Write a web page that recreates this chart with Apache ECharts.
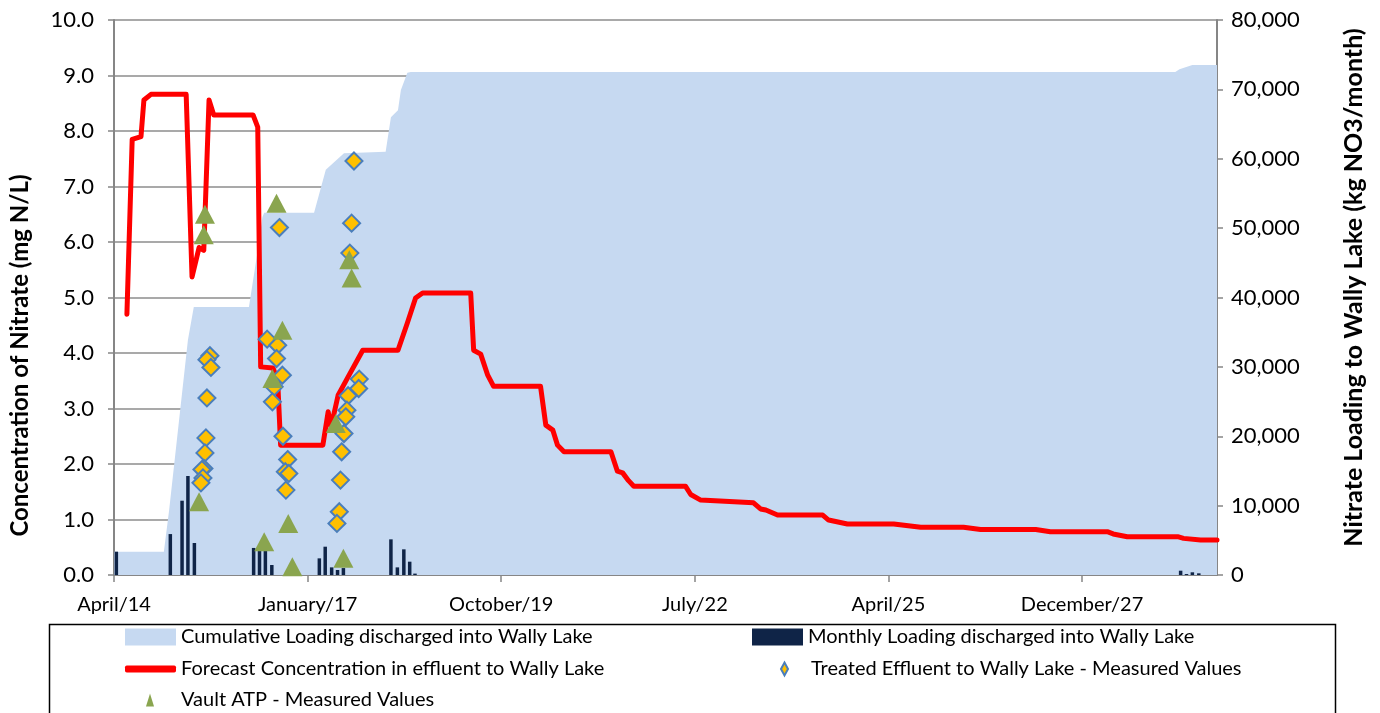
<!DOCTYPE html>
<html>
<head>
<meta charset="utf-8">
<script src="https://cdn.jsdelivr.net/npm/echarts@6/dist/echarts.min.js"></script>
<style>
html,body{margin:0;padding:0;background:#fff;}
#chart{width:1380px;height:713px;}
</style>
</head>
<body>
<div id="chart"></div>
<script>
// x values are months elapsed since April 2014
const tickLabels = ['April/14','January/17','October/19','July/22','April/25','December/27'];

const cumMonths  = [0, 8.5, 9.4, 9.7, 12.6, 13.6, 23.0, 24.5, 25.3, 25.6, 34.1, 36.1, 39.2, 46.3, 47.2, 48.4, 48.9, 50.0, 50.6, 180.9, 181.6, 183.8, 188];
const cumLoading = [3360, 3360, 9370, 9370, 33870, 38630, 38630, 46800, 51600, 52200, 52200, 58400, 60800, 61000, 66000, 67000, 69900, 72400, 72500, 72500, 72900, 73500, 73500];

const monthlyMonths  = [0.4, 9.6, 11.6, 12.6, 13.7, 23.8, 24.8, 25.8, 26.9, 35.0, 36.0, 37.1, 38.1, 39.1, 47.2, 48.3, 49.4, 50.4, 51.3, 181.8, 182.8, 183.8, 184.9];
const monthlyLoading = [3360, 5900, 10710, 14270, 4610, 3900, 3700, 3700, 1440, 2400, 4080, 1100, 720, 1000, 5140, 1100, 3700, 1920, 200, 620, 140, 390, 240];

const forecastMonths = [2.2, 3.1, 4.6, 5.1, 6.3, 12.3, 13.3, 14.5, 15.3, 16.2, 17.0, 23.7, 24.5, 25.0, 27.1, 27.9, 28.4, 35.6, 36.5, 37.0, 38.2, 39.9, 42.4, 48.4, 50.0, 51.4, 52.6, 60.8, 61.3, 62.5, 63.7, 64.7, 72.7, 73.6, 74.8, 75.6, 76.7, 84.7, 85.8, 86.7, 87.7, 88.6, 97.4, 98.3, 100.0, 109.0, 110.2, 111.1, 113.1, 120.8, 121.8, 125.0, 132.9, 137.5, 144.8, 147.7, 157.1, 159.6, 169.3, 170.3, 172.7, 181.3, 182.3, 185.2, 188.0];
const forecastConc   = [4.7, 7.85, 7.9, 8.56, 8.66, 8.66, 5.37, 5.9, 5.85, 8.56, 8.29, 8.29, 8.07, 3.75, 3.73, 3.5, 2.34, 2.34, 2.94, 2.67, 3.24, 3.57, 4.05, 4.05, 4.54, 4.99, 5.08, 5.08, 4.05, 3.98, 3.6, 3.4, 3.4, 2.7, 2.61, 2.34, 2.22, 2.22, 1.87, 1.84, 1.7, 1.6, 1.6, 1.45, 1.35, 1.3, 1.19, 1.17, 1.08, 1.08, 0.99, 0.92, 0.92, 0.86, 0.86, 0.82, 0.82, 0.78, 0.78, 0.74, 0.69, 0.69, 0.66, 0.63, 0.63];

const treatedMonths = [16.35, 15.84, 16.52, 15.84, 15.67, 15.5, 15.33, 14.99, 15.16, 14.82,
  28.2, 26.1, 27.9, 27.7, 28.7, 27.3, 27.0, 28.8, 29.6, 29.2, 29.8, 29.3,
  40.9, 40.5, 40.2, 41.8, 41.7, 39.9, 39.7, 39.5, 39.2, 38.8, 38.6, 38.4, 38.0];
const treatedConc = [3.95, 3.88, 3.74, 3.19, 2.47, 2.2, 1.92, 1.9, 1.75, 1.66,
  6.26, 4.25, 4.14, 3.9, 3.6, 3.39, 3.12, 2.5, 2.08, 1.86, 1.83, 1.53,
  7.46, 6.34, 5.8, 3.53, 3.36, 3.23, 2.97, 2.85, 2.55, 2.22, 1.71, 1.14, 0.93];

const vaultMonths = [15.5, 15.3, 14.5, 27.7, 28.7, 27.0, 25.6, 29.7, 30.4, 40.1, 40.5, 37.8, 39.1];
const vaultConc   = [6.5, 6.13, 1.32, 6.7, 4.41, 3.54, 0.6, 0.93, 0.15, 5.68, 5.35, 2.73, 0.3];

const seriesNames = [
  'Cumulative Loading discharged into Wally Lake',
  'Monthly Loading discharged into Wally Lake',
  'Forecast Concentration in effluent to Wally Lake',
  'Treated Effluent to Wally Lake - Measured Values',
  'Vault ATP - Measured Values'
];

const zip = (a, b) => a.map((v, i) => [v, b[i]]);
const FONT = 'Lato, "Open Sans", sans-serif';
const AX = '#868686';

const chart = echarts.init(document.getElementById('chart'), null, {renderer: 'canvas'});

const legendText = {fontFamily: FONT, fontSize: 20, color: '#000'};
function legendAt(name, left, top, icon, w, h, pad) {
  return {
    data: [name], left: left, top: top, icon: icon, itemWidth: w, itemHeight: h,
    padding: 0, selectedMode: false,
    textStyle: Object.assign({}, legendText, {padding: [0, 0, 0, pad || 0]})
  };
}

chart.setOption({
  animation: false,
  backgroundColor: '#fff',
  grid: {left: 113, right: 163, top: 20, bottom: 138, containLabel: false},
  legend: [
    legendAt(seriesNames[0], 125, 627, 'rect', 51, 17),
    legendAt(seriesNames[1], 752, 627, 'rect', 51, 17),
    legendAt(seriesNames[2], 125, 659, 'roundRect', 51, 7),
    legendAt(seriesNames[3], 780, 659, 'diamond', 7, 13, 18),
    legendAt(seriesNames[4], 146, 690, 'triangle', 8, 13, 22)
  ],
  graphic: [{
    type: 'rect', left: 47, top: 622, silent: true,
    shape: {width: 1286, height: 100},
    style: {fill: 'none', stroke: '#000', lineWidth: 1.5}
  }],
  xAxis: {
    type: 'value', min: 0, max: 188, interval: 33,
    axisLine: {show: true, lineStyle: {color: AX, width: 2}},
    axisTick: {show: true, length: 7, lineStyle: {color: AX, width: 1.5}},
    splitLine: {show: false},
    axisLabel: {
      fontFamily: FONT, fontSize: 20, color: '#000', margin: 20, showMaxLabel: false,
      formatter: v => (v % 33 === 0 && v / 33 < tickLabels.length) ? tickLabels[v / 33] : ''
    }
  },
  yAxis: [{
    type: 'value', min: 0, max: 10, interval: 1,
    name: 'Concentration of Nitrate (mg N/L)', nameLocation: 'middle', nameRotate: 90, nameGap: 82,
    nameTextStyle: {fontFamily: FONT, fontSize: 24, fontWeight: 'bold', color: '#000', padding: [0, 116, 0, 0]},
    axisLine: {show: true, lineStyle: {color: AX, width: 2}},
    axisTick: {show: true, length: 6, lineStyle: {color: AX, width: 1.5}},
    splitLine: {show: true, lineStyle: {color: '#8c8c8c', width: 1.5}},
    axisLabel: {fontFamily: FONT, fontSize: 22, color: '#000', margin: 20, formatter: v => v.toFixed(1)}
  }, {
    type: 'value', min: 0, max: 80000, interval: 10000, position: 'right',
    name: 'Nitrate Loading to Wally Lake (kg NO3/month)', nameLocation: 'middle', nameRotate: 90, nameGap: 124,
    nameTextStyle: {fontFamily: FONT, fontSize: 25, fontWeight: 'bold', color: '#000', padding: [0, 0, 0, 20]},
    axisLine: {show: true, lineStyle: {color: AX, width: 2}},
    axisTick: {show: true, length: 6, lineStyle: {color: AX, width: 1.5}},
    splitLine: {show: false},
    axisLabel: {fontFamily: FONT, fontSize: 22, color: '#000', margin: 14,
      formatter: v => v.toLocaleString('en-US')}
  }],
  series: [{
    name: seriesNames[0], type: 'line', yAxisIndex: 1, z: 1,
    data: zip(cumMonths, cumLoading), symbol: 'none',
    lineStyle: {width: 0}, itemStyle: {color: '#c6d9f1'},
    areaStyle: {color: '#c6d9f1', opacity: 1}
  }, {
    name: seriesNames[1], type: 'bar', yAxisIndex: 1, z: 2,
    data: zip(monthlyMonths, monthlyLoading), barWidth: 3.5,
    itemStyle: {color: '#0f2447'}
  }, {
    name: seriesNames[2], type: 'line', yAxisIndex: 0, z: 3,
    data: zip(forecastMonths, forecastConc), symbol: 'none',
    lineStyle: {color: '#ff0000', width: 5, join: 'round', cap: 'round'},
    itemStyle: {color: '#ff0000'}
  }, {
    name: seriesNames[3], type: 'scatter', yAxisIndex: 0, z: 4,
    data: zip(treatedMonths, treatedConc), symbol: 'diamond', symbolSize: [17, 17],
    itemStyle: {color: '#ffc000', borderColor: '#4a7ebb', borderWidth: 2, opacity: 1}
  }, {
    name: seriesNames[4], type: 'scatter', yAxisIndex: 0, z: 5,
    data: zip(vaultMonths, vaultConc), symbol: 'triangle', symbolSize: [20, 19],
    itemStyle: {color: '#8aa54f', opacity: 1}
  }]
});
</script>
</body>
</html>
